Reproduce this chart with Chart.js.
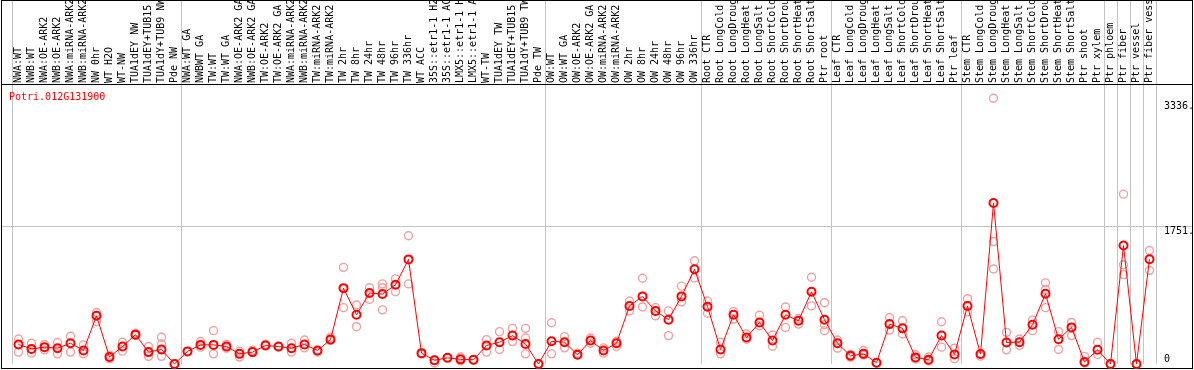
<!DOCTYPE html>
<html><head><meta charset="utf-8">
<script src="https://cdn.jsdelivr.net/npm/chart.js@4/dist/chart.umd.min.js"></script>
<style>html,body{margin:0;padding:0;background:#fff;overflow:hidden}canvas{display:block}</style>
</head><body>
<canvas id="c" width="1194" height="370"></canvas>
<script>
const geneName = 'Potri.012G131900';
const categories = [
 'NWA:WT','NWB:WT','NWA:OE-ARK2','NWB:OE-ARK2','NWA:miRNA-ARK2','NWB:miRNA-ARK2','NW 0hr','WT H2O','WT-NW','TUA1dEY NW',
 'TUA1dEY+TUB15 NW','TUA1dY+TUB9 NW','Pde NW','NWA:WT GA','NWBWT GA','TW:WT','TW:WT GA','NWA:OE-ARK2 GA','NWB:OE-ARK2 GA','TW:OE-ARK2',
 'TW:OE-ARK2 GA','NWA:miRNA-ARK2 GA','NWB:miRNA-ARK2 GA','TW:miRNA-ARK2','TW:miRNA-ARK2 GA','TW 2hr','TW 8hr','TW 24hr','TW 48hr','TW 96hr',
 'TW 336hr','WT ACC','35S::etr1-1 H2O','35S::etr1-1 ACC','LMX5::etr1-1 H2O','LMX5::etr1-1 ACC','WT-TW','TUA1dEY TW','TUA1dEY+TUB15 TW','TUA1dY+TUB9 TW',
 'Pde TW','OW:WT','OW:WT GA','OW:OE-ARK2','OW:OE-ARK2 GA','OW:miRNA-ARK2','OW:miRNA-ARK2 GA','OW 2hr','OW 8hr','OW 24hr',
 'OW 48hr','OW 96hr','OW 336hr','Root CTR','Root LongCold','Root LongDrought','Root LongHeat','Root LongSalt','Root ShortCold','Root ShortDrought',
 'Root ShortHeat','Root ShortSalt','Ptr root','Leaf CTR','Leaf LongCold','Leaf LongDrought','Leaf LongHeat','Leaf LongSalt','Leaf ShortCold','Leaf ShortDrought',
 'Leaf ShortHeat','Leaf ShortSalt','Ptr leaf','Stem CTR','Stem LongCold','Stem LongDrought','Stem LongHeat','Stem LongSalt','Stem ShortCold','Stem ShortDrought',
 'Stem ShortHeat','Stem ShortSalt','Ptr shoot','Ptr xylem','Ptr phloem','Ptr fiber','Ptr vessel','Ptr fiber vessel'
];
const meanValues = [
 248,192,214,201,264,172,612,88,222,373,
 151,185,0,160,243,243,222,129,151,235,
 222,201,248,172,310,964,625,901,889,1006,
 1329,138,47,79,59,54,235,277,361,255,
 0,289,277,117,298,172,264,738,859,675,
 562,859,1203,729,185,625,336,528,298,625,
 549,918,562,264,104,129,16,507,453,84,
 54,361,122,738,126,2045,273,277,499,892,
 314,465,25,180,0,1505,0,1332
];
const rep1 = [
 318,264,248,273,352,243,654,67,277,390,
 222,339,0,160,285,424,248,88,151,235,
 222,264,305,172,339,1228,750,968,1018,1081,
 1630,138,13,79,88,54,310,411,453,453,
 0,524,348,117,331,205,222,801,1090,716,
 675,989,1311,801,277,666,381,620,368,725,
 507,1102,779,305,122,172,16,591,549,117,
 88,537,201,830,126,3377,402,318,557,1031,
 411,528,97,277,0,2158,0,1442
];
const rep2 = [
 151,138,180,129,151,129,540,113,163,365,
 97,255,0,null,214,129,201,163,176,251,
 214,151,205,151,302,716,474,821,968,918,
 1018,126,50,75,38,50,151,185,285,331,
 0,129,205,138,264,138,289,675,725,612,
 361,788,1094,645,129,569,314,486,226,465,
 578,738,499,201,88,113,13,431,381,63,
 38,214,67,662,100,1555,180,235,424,947,
 185,361,13,122,0,1261,0,1190
];
const rep3 = [
 null,null,null,null,null,null,null,null,null,null,
 null,97,null,null,null,null,null,null,null,null,
 null,null,null,null,null,null,null,null,688,null,
 null,null,null,null,null,null,null,null,null,129,
 null,null,null,null,null,null,null,null,null,null,
 null,null,null,null,null,null,null,null,null,null,
 null,null,424,null,null,null,null,null,null,null,
 null,null,null,null,null,1207,null,null,null,716,
 null,null,null,null,null,1135,null,null
];
const groupStarts = [0,13,41,53,63,73,84,85,86,87,88];
const yTickValues = [0,1751,3336];
const yTickLabels = ['0','1751.','3336.'];
const yMax = 3545;

const MONO = "'DejaVu Sans Mono','Liberation Mono',monospace";
const GRAY = '#c4c4c4';
const CLEAR = 'rgba(0,0,0,0)';

const framePlugin = {
  id: 'frame',
  beforeDatasetsDraw(chart) {
    const c = chart.ctx, ys = chart.scales.y, a = chart.chartArea;
    c.save();
    c.fillStyle = GRAY;
    const gy = Math.floor(ys.getPixelForValue(yTickValues[1]));
    c.fillRect(1, gy, a.left - 1, 1);
    c.fillStyle = '#000';
    c.fillRect(1, 0, 1, 369);
    c.fillRect(1192, 0, 1, 369);
    c.fillRect(1, 0, 1192, 1);
    c.fillRect(1, 84, 1192, 1);
    c.fillRect(1, 368, 1192, 1);
    c.fillStyle = '#ff0000';
    c.font = '10px ' + MONO;
    c.textBaseline = 'middle';
    c.textAlign = 'left';
    c.fillText(geneName, 9, 97);
    c.restore();
  }
};

const repStyle = {
  showLine: false, pointRadius: 4, pointBorderWidth: 1.4,
  pointBorderColor: '#f0a0a0', pointBackgroundColor: CLEAR,
  borderColor: '#f0a0a0', order: 1, clip: false
};

new Chart(document.getElementById('c'), {
  type: 'line',
  data: {
    labels: categories,
    datasets: [
      { label: 'mean', data: meanValues, borderColor: '#ff0000', borderWidth: 1,
        pointRadius: 4, pointBorderWidth: 2, pointBorderColor: '#ff0000',
        pointBackgroundColor: CLEAR, tension: 0, fill: false, order: 0, clip: false },
      Object.assign({ label: 'rep1', data: rep1 }, repStyle),
      Object.assign({ label: 'rep2', data: rep2 }, repStyle),
      Object.assign({ label: 'rep3', data: rep3 }, repStyle)
    ]
  },
  options: {
    responsive: false, animation: false, devicePixelRatio: 1,
    layout: { padding: { left: 12, right: 0, top: 0, bottom: 3 } },
    plugins: { legend: { display: false }, tooltip: { enabled: false }, title: { display: false } },
    scales: {
      x: {
        type: 'category', position: 'top', offset: true,
        grid: { offset: true, drawTicks: true, tickLength: 85, lineWidth: 1,
          color: ctx => (ctx.index === undefined || groupStarts.includes(ctx.index)) ? GRAY : CLEAR },
        border: { display: false },
        ticks: { autoSkip: false, minRotation: 90, maxRotation: 90, padding: -83, labelOffset: 10,
          color: '#000', font: { family: MONO, size: 10, lineHeight: 1 } },
        afterFit(s) { s.height = 85; }
      },
      y: {
        position: 'right', min: 0, max: yMax,
        afterBuildTicks(s) { s.ticks = yTickValues.map(v => ({ value: v })); },
        grid: { drawTicks: true, tickLength: 36, lineWidth: 1,
          color: ctx => (ctx.tick && ctx.tick.value === yTickValues[1]) ? GRAY : CLEAR },
        border: { display: false },
        ticks: { padding: -28, crossAlign: 'near', color: '#000',
          font: { family: MONO, size: 10, lineHeight: 1 },
          callback: (v) => { const s = yTickLabels[yTickValues.indexOf(v)]; return v === 0 ? [s, ''] : ['', s]; } },
        afterFit(s) { s.width = 38; }
      }
    }
  },
  plugins: [framePlugin]
});
</script>
</body></html>
